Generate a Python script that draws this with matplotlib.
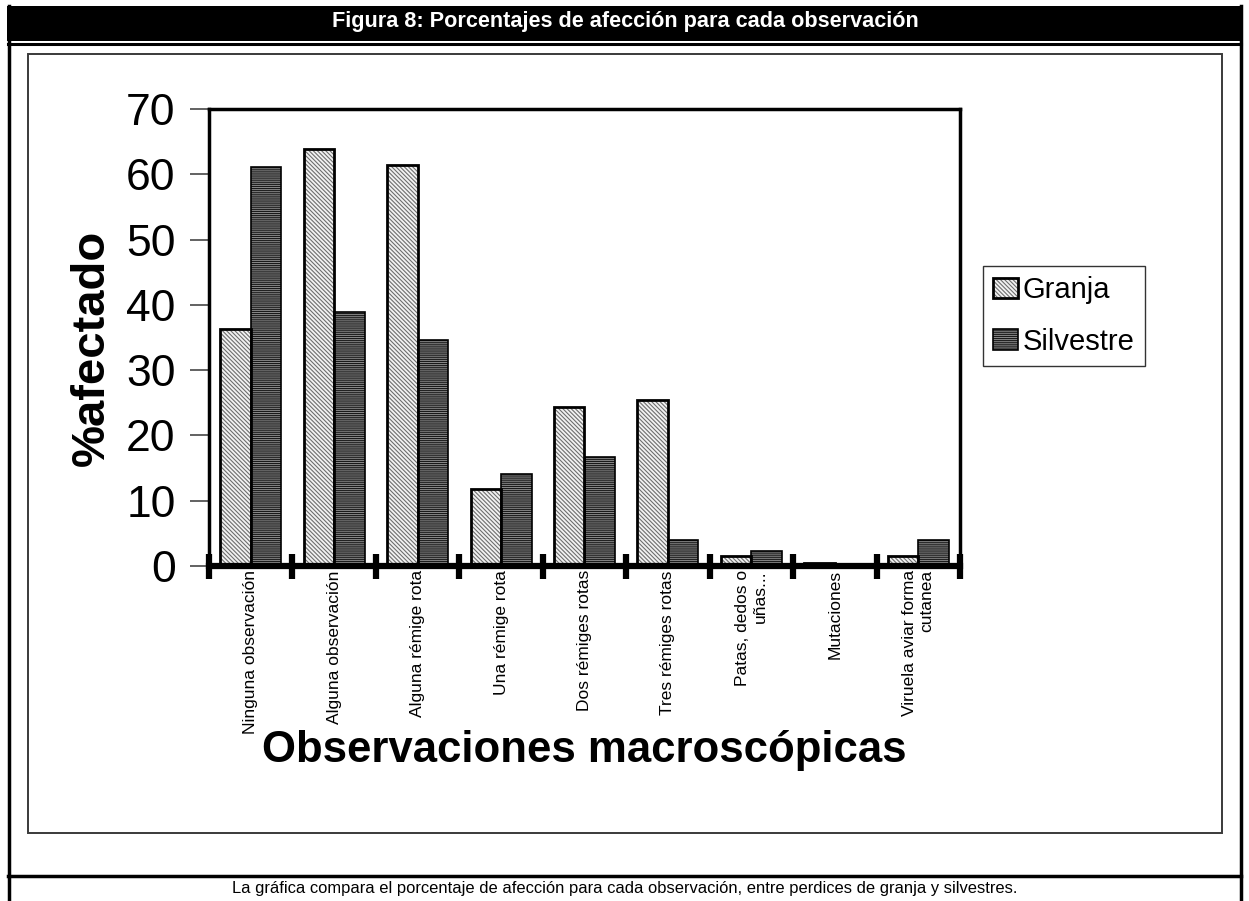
import numpy as np
import matplotlib
matplotlib.use("Agg")
import matplotlib.pyplot as plt
from matplotlib.patches import Rectangle
from matplotlib.lines import Line2D

plt.rcParams['font.family'] = ['Liberation Sans', 'DejaVu Sans']
plt.rcParams['hatch.linewidth'] = 0.8

categories = [
    "Ninguna observación",
    "Alguna observación",
    "Alguna rémige rota",
    "Una rémige rota",
    "Dos rémiges rotas",
    "Tres rémiges rotas",
    "Patas, dedos o\nuñas...",
    "Mutaciones",
    "Viruela aviar forma\ncutanea",
]
granja = [36.3, 63.9, 61.4, 11.8, 24.3, 25.4, 1.5, 0.5, 1.5]
silvestre = [61.1, 38.9, 34.6, 14.1, 16.7, 4.0, 2.3, 0.0, 4.0]
series_names = ["Granja", "Silvestre"]
y_ticks = [0, 10, 20, 30, 40, 50, 60, 70]

W, H = 1249, 901
fig = plt.figure(figsize=(W / 100, H / 100), dpi=100)


def px_box(x0, y0, x1, y1):
    # pixel box (top-left origin) -> figure fractions [left, bottom, width, height]
    return [x0 / W, 1 - y1 / H, (x1 - x0) / W, (y1 - y0) / H]


def fig_line(xs, ys, lw=1.0, color="black"):
    fig.add_artist(Line2D([x / W for x in xs], [1 - y / H for y in ys],
                          transform=fig.transFigure, lw=lw, color=color))


# page frame: black header band, outer borders, chart box, caption divider
fig.add_artist(Rectangle((7 / W, 1 - 41 / H), (1241 - 7) / W, 35 / H,
                         transform=fig.transFigure, facecolor="black",
                         edgecolor="none"))
fig_line([8, 1241], [43.5, 43.5], lw=2.2)
fig_line([8.5, 8.5], [6, 901], lw=2.5)
fig_line([1240.5, 1240.5], [6, 901], lw=2.5)
fig_line([8, 1241], [876, 876], lw=2.5)
fig.add_artist(Rectangle((28 / W, 1 - 833 / H), (1222 - 28) / W, (833 - 54) / H,
                         transform=fig.transFigure, facecolor="none",
                         edgecolor="#3a3a3a", lw=1.4))

fig.text(625 / W, 1 - 22 / H, "Figura 8: Porcentajes de afección para cada observación",
         color="white", fontsize=15.6, fontweight="bold", ha="center", va="center")
fig.text(625 / W, 1 - 888 / H,
         "La gráfica compara el porcentaje de afección para cada observación, "
         "entre perdices de granja y silvestres.",
         fontsize=11.9, ha="center", va="center")

ax = fig.add_axes(px_box(209, 109, 960, 566))
x = np.arange(len(categories))
bw = 0.365

# each series: a hatched fill layer (hatch colour via edgecolor, no outline)
# and a separate black outline on top
styles = [
    dict(face="#f2f2f2", hatch_col="#6e6e6e", hatch="\\\\\\\\\\\\\\\\", lw=2.0),
    dict(face="#8a8a8a", hatch_col="#1a1a1a", hatch="--------", lw=1.2),
]
handles = []
for i, (vals, st) in enumerate(zip([granja, silvestre], styles)):
    xpos = x + (i - 0.5) * bw
    fill = ax.bar(xpos, vals, bw, facecolor=st["face"], edgecolor=st["hatch_col"],
                  hatch=st["hatch"], lw=0, zorder=2)
    edge = ax.bar(xpos, vals, bw, facecolor="none", edgecolor="black",
                  lw=st["lw"], zorder=3)
    handles.append((fill.patches[0], edge.patches[0]))

ax.set_xlim(-0.5, len(categories) - 0.5)
ax.set_ylim(0, 70)
ax.set_yticks(y_ticks)
ax.tick_params(axis="y", direction="out", length=14, width=1.3, color="#555555",
               labelsize=32, pad=10)

ax.set_xticks(x)
ax.set_xticklabels(categories, rotation=90, fontsize=12.5, va="top",
                   ha="center", multialignment="right")
ax.set_xticks(np.arange(len(categories) + 1) - 0.5, minor=True)
ax.tick_params(axis="x", which="major", length=0, pad=3)
ax.tick_params(axis="x", which="minor", direction="inout", length=18, width=4.5,
               color="black")

for side in ["left", "top", "right"]:
    ax.spines[side].set_linewidth(2.5)
ax.spines["bottom"].set_linewidth(4.5)
ax.spines["bottom"].set_zorder(4)

ax.set_ylabel("%afectado", fontsize=34, fontweight="bold")
ax.yaxis.set_label_coords(-0.156, 0.478)
ax.set_xlabel("Observaciones macroscópicas", fontsize=31.5, fontweight="bold")
ax.xaxis.set_label_coords(0.5, -0.403)
ax.xaxis.label.set_va("center")
ax.yaxis.label.set_va("center")

leg = ax.legend(handles, series_names, loc="center",
                bbox_to_anchor=(1064 / W, 1 - 316 / H),
                bbox_transform=fig.transFigure, fontsize=21, frameon=True,
                fancybox=False, edgecolor="black", handlelength=0.85,
                handleheight=0.7, handletextpad=0.15, labelspacing=0.8,
                borderpad=0.35, borderaxespad=0)
leg.get_frame().set_linewidth(1.0)

fig.savefig("out.png", dpi=100)
